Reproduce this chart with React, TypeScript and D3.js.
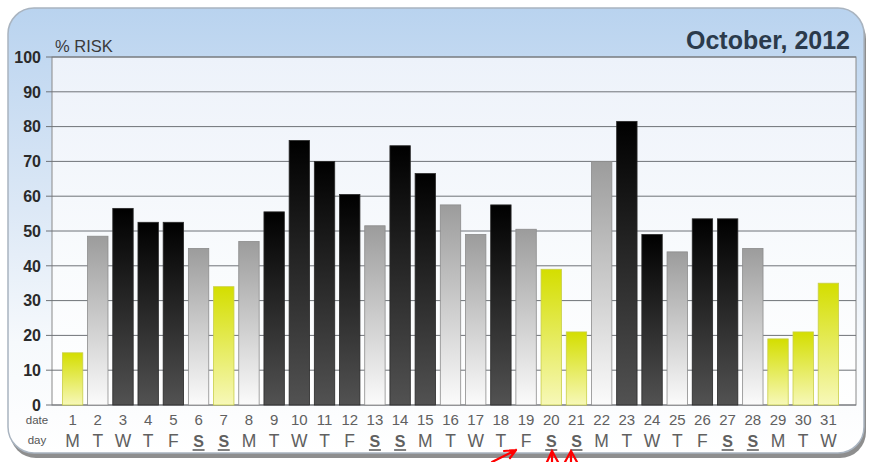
import React from "react";
import * as d3 from "d3";

const dates = Array.from({ length: 31 }, (_, i) => String(i + 1));
const days = ["M","T","W","T","F","S","S","M","T","W","T","F","S","S","M","T","W","T","F","S","S","M","T","W","T","F","S","S","M","T","W"];
const risk = [15,48.5,56.5,52.5,52.5,45,34,47,55.5,76,70,60.5,51.5,74.5,66.5,57.5,49,57.5,50.5,39,21,70,81.5,49,44,53.5,53.5,45,19,21,35];
const level = ["low","med","high","high","high","med","low","med","high","high","high","high","med","high","high","med","med","high","med","low","low","med","high","high","med","high","high","med","low","low","low"];
const weekend = [6,7,13,14,20,21,27,28];
const yTicks = [0,10,20,30,40,50,60,70,80,90,100];

const W = 870, H = 462;
const PL = 52, PR = 856, PT = 57, PB = 405;

export default function App() {
  const x = d3.scaleBand<string>().domain(dates).range([60, 841]).paddingInner(0.19).paddingOuter(0.095);
  const y = d3.scaleLinear().domain([0, 100]).range([PB, PT]);
  const fillFor: Record<string, string> = { high: "url(#gHigh)", med: "url(#gMed)", low: "url(#gLow)" };
  const strokeFor: Record<string, string> = { high: "#2a2a2a", med: "#8c8c8c", low: "#c9cf4a" };
  const font = "Arial, 'Liberation Sans', Helvetica, sans-serif";
  return (
    <svg width={W} height={H} style={{ position: "absolute", left: 0, top: 0, background: "#fff" }} fontFamily={font}>
      <defs>
        <linearGradient id="panelG" x1="0" y1="0" x2="0" y2="1">
          <stop offset="0" stopColor="#b9d3ef" />
          <stop offset="0.45" stopColor="#dce8f6" />
          <stop offset="0.75" stopColor="#f6f9fc" />
          <stop offset="1" stopColor="#ffffff" />
        </linearGradient>
        <linearGradient id="plotG" x1="0" y1="0" x2="0" y2="1">
          <stop offset="0" stopColor="#edf2fa" />
          <stop offset="0.6" stopColor="#f9fbfd" />
          <stop offset="1" stopColor="#ffffff" />
        </linearGradient>
        <linearGradient id="gHigh" x1="0" y1="0" x2="0" y2="1">
          <stop offset="0" stopColor="#000000" />
          <stop offset="1" stopColor="#525252" />
        </linearGradient>
        <linearGradient id="gMed" x1="0" y1="0" x2="0" y2="1">
          <stop offset="0" stopColor="#9c9c9c" />
          <stop offset="1" stopColor="#fbfbfb" />
        </linearGradient>
        <linearGradient id="gLow" x1="0" y1="0" x2="0" y2="1">
          <stop offset="0" stopColor="#d4de00" />
          <stop offset="1" stopColor="#f7f8b8" />
        </linearGradient>
      </defs>
      <rect x={10} y={13} width={856} height={445} rx={26} fill="#8e8e8e" />
      <rect x={8} y={8} width={856} height={445} rx={26} fill="url(#panelG)" stroke="#a9b4c0" strokeWidth={1.5} />
      <rect x={PL} y={PT} width={PR - PL} height={PB - PT} fill="url(#plotG)" stroke="#8a8a8a" strokeWidth={1} />
      {yTicks.map((t) => (
        <g key={t}>
          <line x1={46} x2={PR} y1={y(t)} y2={y(t)} stroke="#6f7378" strokeWidth={1} />
          <text x={41} y={y(t)} dy="0.36em" textAnchor="end" fontSize={16} fontWeight="bold" fill="#2a2a2a">{t}</text>
        </g>
      ))}
      {risk.map((v, i) => (
        <rect key={i} x={x(dates[i])} y={y(v)} width={x.bandwidth()} height={PB - y(v)}
          fill={fillFor[level[i]]} stroke={strokeFor[level[i]]} strokeWidth={0.8} />
      ))}
      <text x={55} y={52} fontSize={16.5} fill="#3a3a3a">% RISK</text>
      <text x={850} y={49} textAnchor="end" fontSize={25} fontWeight="bold" fill="#2b3a4b">October, 2012</text>
      <text x={37} y={424} textAnchor="middle" fontSize={11.5} fill="#555">date</text>
      <text x={37} y={444} textAnchor="middle" fontSize={11.5} fill="#555">day</text>
      {dates.map((d, i) => {
        const cx = (x(d) as number) + x.bandwidth() / 2;
        const we = weekend.includes(i + 1);
        return (
          <g key={d}>
            <text x={cx} y={425} textAnchor="middle" fontSize={15} fill="#606060">{d}</text>
            <text x={cx} y={447} textAnchor="middle" fontSize={we ? 16 : 17.5} fontWeight={we ? "bold" : "normal"} fill="#606060">{days[i]}</text>
            {we && <line x1={cx - 6} x2={cx + 6} y1={450} y2={450} stroke="#606060" strokeWidth={1.6} />}
          </g>
        );
      })}
      <g stroke="#ff0000" strokeWidth={2.2} fill="none" strokeLinecap="round">
        <path d="M492,462 L516,450 M516,450 L504,451 M516,450 L510,458" />
        <path d="M547,462 L552,451 L558,462 M552,451 L552,462" />
        <path d="M565,462 L571,451 L577,462 M571,451 L571,462" />
      </g>
    </svg>
  );
}
